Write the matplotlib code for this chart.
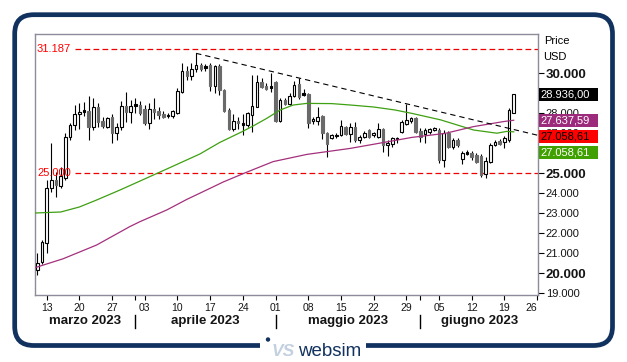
import matplotlib
matplotlib.use("Agg")
import matplotlib.pyplot as plt
from matplotlib.patches import FancyBboxPatch, Rectangle, Circle
from matplotlib.transforms import IdentityTransform, blended_transform_factory
import numpy as np
import pandas as pd

plt.rcParams["font.family"] = ["Liberation Sans", "DejaVu Sans"]

# daily candles, one per calendar day starting on first_date
first_date = "2023-03-11"
axis_end_date = "2023-06-26"

opens = [20170, 20560, 21500, 24230, 24650, 24350, 24730, 26780, 27400, 27950,
         28100, 28120, 27320, 28280, 27600, 27320, 27820, 26980, 27280, 28350,
         28070, 28400, 28400, 28183, 27517, 28200, 28100, 27950, 27883, 27850,
         27983, 29067, 30100, 29867, 30183, 30400, 30300, 30400, 29350, 30350,
         29150, 28150, 27217, 27617, 27450, 27400, 27900, 28317, 29567, 29350,
         29300, 29567, 27617, 28650, 28450, 28850, 29450, 28950, 28933, 27600,
         27600, 27850, 27017, 26733, 26860, 26900, 27317, 26950, 27317, 26650,
         26817, 27150, 26900, 26817, 27183, 26400, 26450, 26700, 27067, 27450,
         27617, 27733, 27117, 26950, 27033, 27150, 27150, 25650, 27000, 26317,
         26650, 25700, 26000, 25983, 25900, 25850, 24950, 25567, 26400, 26617,
         26550, 26650, 28017]
highs = [20980, 21650, 24650, 26480, 25070, 25320, 26980, 27480, 28400, 28520,
         28570, 28850, 28730, 28480, 27780, 27800, 27950, 27480, 28620, 29070,
         28650, 28730, 28600, 28400, 28483, 28733, 28317, 28100, 28000, 28150,
         29233, 30483, 30350, 30483, 30983, 30483, 30450, 30483, 30400, 30450,
         29183, 28233, 27950, 27783, 27950, 28067, 29900, 29900, 29733, 29483,
         29983, 29617, 28733, 28733, 28983, 29617, 29733, 29183, 28983, 27817,
         28283, 27900, 27067, 26950, 26983, 27650, 27350, 27500, 27567, 26900,
         27117, 27183, 27067, 27483, 27233, 26650, 26817, 26817, 27650, 28450,
         27817, 27817, 27233, 27233, 27233, 27283, 27233, 27150, 27100, 26750,
         26750, 26100, 26150, 26100, 26000, 25950, 25783, 26480, 26650, 26700,
         26850, 28230, 28950]
lows = [19900, 20470, 21000, 24070, 23820, 24230, 24650, 26650, 27150, 27180,
        27850, 26650, 27150, 27320, 27230, 27250, 26480, 26650, 27150, 27570,
        27480, 27980, 27900, 27400, 27183, 27683, 27683, 27767, 27750, 27767,
        27950, 29017, 29650, 29650, 30050, 30117, 30117, 29117, 28983, 28900,
        28067, 27150, 27117, 27183, 26900, 27317, 27067, 28283, 29233, 29150,
        29067, 27567, 27567, 28400, 28400, 28817, 28683, 28867, 27233, 27450,
        27400, 26683, 25783, 26683, 26767, 26850, 26900, 26567, 26567, 26483,
        26733, 26733, 26817, 26733, 26067, 25850, 26317, 26483, 26983, 27400,
        27483, 26983, 26567, 26483, 26950, 27117, 25500, 25317, 26250, 26200,
        26300, 25450, 25900, 25650, 25500, 24820, 24733, 25500, 26350, 26420,
        26250, 26570, 27983]
closes = [20500, 21570, 24230, 24650, 24380, 24830, 26780, 27400, 27950, 28070,
          28060, 27320, 28280, 27570, 27350, 27730, 26980, 27280, 28350, 28070,
          28350, 28360, 28017, 27517, 28183, 28067, 27900, 27817, 27850, 28100,
          29100, 30100, 29867, 30183, 30400, 30217, 30260, 29350, 30350, 29150,
          28117, 27200, 27617, 27483, 27420, 27983, 28350, 29567, 29283, 29183,
          29270, 27617, 28650, 28450, 28850, 29400, 28783, 28920, 27483, 27717,
          27817, 26983, 26450, 26900, 26840, 27350, 26950, 27317, 26650, 26783,
          27017, 26817, 26983, 27183, 26400, 26517, 26733, 26683, 27567, 27650,
          27733, 27067, 26817, 27150, 27183, 27233, 25650, 27000, 26317, 26650,
          26400, 26000, 25970, 25817, 25567, 24900, 25600, 26400, 26567, 26450,
          26750, 28150, 28936]

# moving averages (day index, value)
green_days = [-0.5, 5, 9, 12.7, 17.7, 22, 28, 34.8, 39, 43.7, 46.2, 49.1, 52,
              54.8, 57.7, 63, 67, 72, 76.6, 80.2, 86.3, 93.4, 98.4, 100.5, 102]
green_vals = [23000, 23050, 23300, 23650, 24150, 24600, 25230, 25950, 26520,
              27050, 27350, 27730, 28150, 28400, 28480, 28470, 28400, 28300,
              28150, 27980, 27660, 27150, 26990, 27080, 27058.61]
magenta_days = [-0.3, 5.5, 12.7, 19.8, 22, 27.7, 32, 34.8, 39.8, 44.5, 50.5,
                57.7, 67, 74, 80.2, 87.3, 93.4, 99.8, 102]
magenta_vals = [20280, 20710, 21400, 22320, 22570, 23150, 23680, 23990, 24550,
                25010, 25570, 25930, 26230, 26520, 26780, 26980, 27320, 27570,
                27637.59]

# trendline from the April top
trend_days = [34, 107.2]
trend_vals = [30983, 26883]

levels = [31187, 25000]
level_labels = ["31.187", "25.000"]

month_names = ["marzo 2023", "aprile 2023", "maggio 2023", "giugno 2023"]
price_ticks = list(range(19000, 31000, 1000))
bold_ticks = [20000, 25000, 30000]
hidden_ticks = [26000, 29000]   # fully covered by the value boxes

# right-hand value boxes: text, anchor, face, text colour
value_boxes = [
    ("28.936,00", closes[-1], "#000000", "white"),
    ("27.637,59", magenta_vals[-1], "#9d2b7b", "white"),
    ("27.058,61", trend_vals[-1], "#ff0000", "black"),
    ("27.058,61", green_vals[-1], "#40a000", "white"),
]

navy = "#11315f"
W, H = 627, 362
fig = plt.figure(figsize=(W / 100, H / 100), dpi=100)
ax = fig.add_axes([35 / W, 1 - 295 / H, 503 / W, 261 / H])
xlim = (-0.5, 107.2)
ax.set_xlim(*xlim)
ax.set_ylim(18900, 31950)

# candles
o = np.array(opens, float)
c = np.array(closes, float)
days = np.arange(len(c))
doji = np.abs(c - o) < 50
up = c >= o
faces = np.where(doji, "black", np.where(up, "white", "#6a6a6a"))
edges = np.where(doji, "black", np.where(up, "black", "#6a6a6a"))
ax.vlines(days, lows, highs, color="black", lw=0.8, zorder=2)
ax.bar(days, np.maximum(np.abs(c - o), 70), width=0.55,
       bottom=np.minimum(o, c), color=faces, edgecolor=edges,
       linewidth=0.8, zorder=3)

ax.plot(green_days, green_vals, color="#3ea012", lw=0.9, zorder=4)
ax.plot(magenta_days, magenta_vals, color="#a3307c", lw=0.9, zorder=4)
ax.plot(trend_days, trend_vals, color="black", lw=0.8,
        ls=(0, (4.8, 3.6)), zorder=4)

blend_ad = blended_transform_factory(ax.transAxes, ax.transData)
blend_da = blended_transform_factory(ax.transData, ax.transAxes)
for lv, lab in zip(levels, level_labels):
    ax.axhline(lv, xmin=40 / 503, xmax=1, color="#ee0000", lw=0.9,
               ls=(0, (4.6, 2.6)), zorder=1)
    ax.text(2 / 503, lv, lab, transform=blend_ad, color="#ff0000",
            fontsize=8, va="center", ha="left", zorder=5)

# axes styling
for sp in ax.spines.values():
    sp.set_color("#8c8c9c")
    sp.set_linewidth(1.0)

dates = pd.date_range(first_date, axis_end_date, freq="D")
mondays = [i for i, d in enumerate(dates) if d.weekday() == 0]
ax.set_xticks(mondays, [dates[i].strftime("%d") for i in mondays])
month_starts = [i for i, d in enumerate(dates) if d.day == 1]
ax.set_xticks(month_starts, minor=True)
ax.tick_params(axis="x", which="both", direction="out", length=3.5,
               width=0.8, pad=2.2, labelsize=7.5, color="black",
               labelcolor="#151515")
ax.get_xticklabels()[-1].set_ha("right")

ax.yaxis.tick_right()
ax.set_yticks(price_ticks,
              ["" if v in hidden_ticks else f"{v:,}".replace(",", ".")
               for v in price_ticks])
ax.tick_params(axis="y", direction="out", length=4, width=0.8, pad=1.5,
               labelsize=8, color="black", labelcolor="#151515")
for v, t in zip(price_ticks, ax.get_yticklabels()):
    if v in bold_ticks:
        t.set_fontsize(9.5)
        t.set_fontweight("bold")

# month separators and names
for m in month_starts:
    ax.plot([m, m], [-0.0766, -0.1264], transform=blend_da, color="black",
            lw=1.0, clip_on=False)
bounds = [xlim[0]] + month_starts + [xlim[1]]
for name, a, b in zip(month_names, bounds[:-1], bounds[1:]):
    ax.text((a + b) / 2, -0.1, name, transform=blend_da, ha="center",
            va="center", fontsize=9.5, fontweight="bold", color="#151515")

ax.text(1.012, (295 - 41.5) / 261, "Price", transform=ax.transAxes,
        fontsize=8, va="center", ha="left")
ax.text(1.010, (295 - 57) / 261, "USD", transform=ax.transAxes,
        fontsize=8, va="center", ha="left")

# stacked value boxes
box_h = 13.3 * 50
gap = 2.7 * 50
prev = None
for text, anchor, fc, tc in value_boxes:
    yc = anchor if prev is None else min(anchor, prev - box_h - gap)
    prev = yc
    ax.add_patch(Rectangle((504 / 503, yc - box_h / 2), 58.5 / 503, box_h,
                           transform=blend_ad, fc=fc, ec="none",
                           clip_on=False, zorder=6))
    ax.text(505 / 503, yc, text, transform=blend_ad, color=tc, fontsize=8,
            va="center", ha="left", zorder=7, clip_on=False)

# frame with rounded corners and logo
px = IdentityTransform()
fig.add_artist(FancyBboxPatch((14.7, H - 345.5), 612.5 - 14.7, 345.5 - 14.7,
                              boxstyle="round,pad=0,rounding_size=19",
                              transform=px, fc="none", ec=navy, lw=3.4))
fig.add_artist(Rectangle((260, H - 352), 106, 11, transform=px,
                         fc="white", ec="none"))
fig.add_artist(Circle((268, H - 339.5), 2.2, transform=px, fc=navy,
                      ec="none"))
fig.text(272, H - 356.5, "VS", transform=px, fontsize=12.5,
         fontstyle="italic", fontweight="bold", color="#c3d0e0",
         va="baseline", ha="left")
fig.text(298, H - 356.5, "websim", transform=px, fontsize=13.5,
         color=navy, va="baseline", ha="left")

fig.savefig("out.png", dpi=100)
